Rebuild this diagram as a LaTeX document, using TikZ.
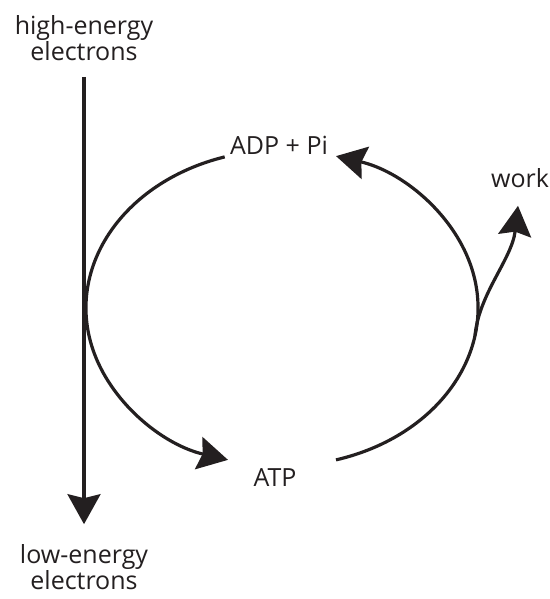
\documentclass[tikz,border=0pt]{standalone}
\usepackage{fontspec}
\setmainfont{Open Sans}
\usetikzlibrary{positioning,arrows.meta,calc}
\definecolor{tinta}{HTML}{231F20}

\begin{document}
\begin{tikzpicture}[x=1pt,y=1pt,
    seta/.style={-{Stealth[length=30pt,width=33pt,inset=4pt]}},
    linha/.style={tinta,line width=3.2pt},
    rotulo/.style={align=center,font=\fontsize{25}{26}\selectfont,text=tinta,inner sep=0pt}]
    \useasboundingbox (0,0) rectangle (549,599);

    % Eletrons (eixo vertical)
    \node[rotulo] (alta) at (84,561) {high-energy\\electrons};
    \node[rotulo] (baixa) at (84,32) {low-energy\\electrons};
    \draw[linha,seta,shorten <=16pt,shorten >=20pt] (alta.south) -- (baixa.north);

    % Ciclo ADP / ATP
    \node[rotulo] (adp) at (279,454) {ADP + Pi};
    \node[rotulo] (atp) at (275,121) {ATP};
    \node[rotulo] (trabalho) at (520,421) {work};
    \coordinate (centro) at (282,291);

    \draw[linha,seta] ($(centro)+(107:196 and 158)$) arc[start angle=107,end angle=254,x radius=196,y radius=158];
    \draw[linha,seta] ($(centro)+(-74:196 and 158)$) arc[start angle=-74,end angle=74,x radius=196,y radius=158];

    % Ramo para o trabalho
    \coordinate (ramo) at ($(centro)+(-10:196 and 158)$);
    \draw[linha,seta] (ramo) .. controls +(4,42) and (512,340) .. ($(trabalho.south)+(-2,-18)$);
\end{tikzpicture}
\end{document}
